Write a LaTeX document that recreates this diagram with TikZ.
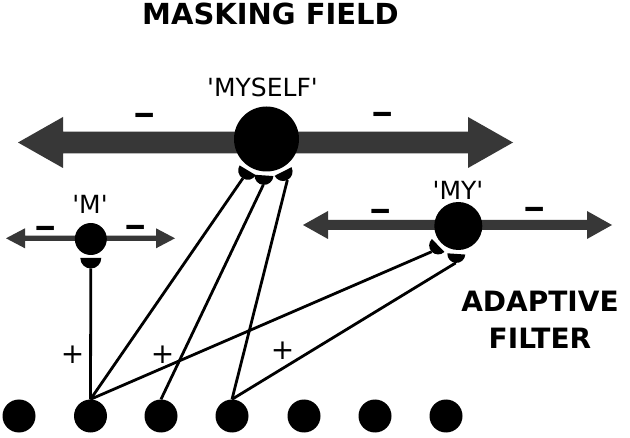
\documentclass[tikz,border=0pt]{standalone}
\usepackage{fontspec}
\setmainfont{DejaVu Sans}
\newfontfamily\plainfont{DejaVu Sans}[Ligatures=TeXOff]
\usetikzlibrary{calc}
\definecolor{arrgray}{RGB}{55,55,55}
\newcommand{\dblarr}[5]{%
  \fill[arrgray] (#1) -- ++(#5,#4) -- ++(0,#3-#4) -- ($(#2)+(-#5,#3)$) -- ++(0,#4-#3) -- (#2)
    -- ++(-#5,-#4) -- ++(0,#4-#3) -- ($(#1)+(#5,-#3)$) -- ++(0,#3-#4) -- cycle;}
\newcommand{\syn}[5]{%
  \fill ($(#1)+(#2:#3)+(#2+90:#4)$) arc[start angle=#2+90, end angle=#2-90, radius=#4] -- cycle;
  \coordinate (#5) at ($(#1)+(#2:#3+#4)$);}
\newcommand{\wdash}{\scalebox{1.35}[1]{–}}
\begin{document}
\begin{tikzpicture}[x=1pt,y=1pt,
  cell/.style={circle, fill=black, inner sep=0pt, minimum size=#1},
  lbl/.style={font=\plainfont\fontsize{25}{30}\selectfont, inner sep=0pt},
  ttl/.style={font=\bfseries\fontsize{29}{34}\selectfont, inner sep=0pt, align=center},
  minus/.style={font=\bfseries\fontsize{33}{38}\selectfont, inner sep=0pt},
  plus/.style={font=\fontsize{28}{32}\selectfont, inner sep=0pt},
  wire/.style={line width=2.8pt, black}]
\fill[white] (0,0) rectangle (630,437);
\useasboundingbox (0,0) rectangle (630,437);

% titles
\node[ttl] (title) at (270.5,423.5) {MASKING FIELD};
\node[ttl, font=\bfseries\fontsize{28}{37}\selectfont] (filter) at (540,117) {ADAPTIVE\\FILTER};

% lateral inhibition arrows
\coordinate (bigL) at (18,294.5);
\coordinate (bigR) at (513,294.5);
\dblarr{bigL}{bigR}{10.8}{25.5}{45}
\coordinate (myL) at (303,212);
\coordinate (myR) at (612,212);
\dblarr{myL}{myR}{5}{14}{25}
\coordinate (mL) at (6,198.7);
\coordinate (mR) at (175,198.7);
\dblarr{mL}{mR}{2.6}{10}{19}

% cells
\node[cell=65pt] (myself) at (266.5,298) {};
\node[cell=48pt] (my) at (458.3,211) {};
\node[cell=32pt] (m) at (90.8,198) {};
\foreach \i/\x in {1/19,2/90.5,3/161,4/232,5/304,6/375,7/446}
  \node[cell=33pt] (b\i) at (\x,21) {};

% synapses
\syn{myself}{-121}{36.5}{9.5}{sS1}
\syn{myself}{-94}{36.5}{9.5}{sS2}
\syn{myself}{-63}{36.5}{9.5}{sS3}
\syn{my}{-136}{28}{9}{sY1}
\syn{my}{-94}{28}{9}{sY2}
\syn{m}{-90}{19}{10.5}{sM}

% adaptive filter pathways
\draw[wire] (b2.north) -- (sM);
\draw[wire] (b2.north) -- (sS1);
\draw[wire] (b2.north) -- (sY1);
\draw[wire] (b3.north) -- (sS2);
\draw[wire] (b4.north) -- (sS3);
\draw[wire] (b4.north) -- (sY2);

% labels
\node[lbl] (lmyself) at (262.5,350) {'MYSELF'};
\node[lbl] (lmy) at (458,247) {'MY'};
\node[lbl] (lm) at (90,232.5) {'M'};

% signs
\node[minus] (n1) at (145,318) {\wdash};
\node[minus] (n2) at (383,319) {\wdash};
\node[minus] (n3) at (381,222) {\wdash};
\node[minus] (n4) at (535,224) {\wdash};
\node[minus] (n5) at (46,205) {\wdash};
\node[minus] (n6) at (136,206) {\wdash};
\node[plus] (p1) at (72.7,82) {+};
\node[plus] (p2) at (162.7,82) {+};
\node[plus] (p3) at (282.7,86) {+};
\end{tikzpicture}
\end{document}
